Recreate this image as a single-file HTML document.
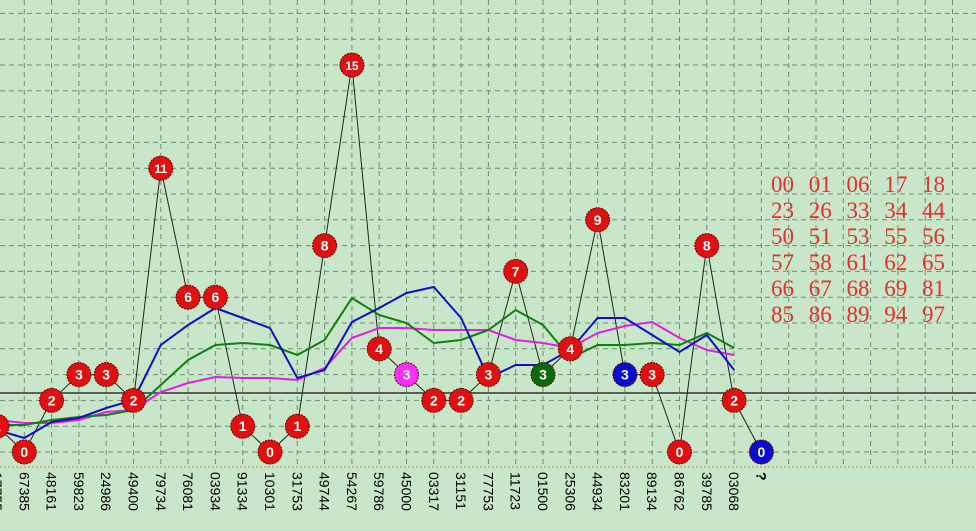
<!DOCTYPE html>
<html><head><meta charset="utf-8"><style>
html,body{margin:0;padding:0;background:#c8e6c8;}
svg{display:block;}
</style></head><body>
<svg width="976" height="531" viewBox="0 0 976 531" xmlns="http://www.w3.org/2000/svg">
<rect width="976" height="531" fill="#c8e6c8"/>
<g id="grid" stroke="#6f8f6f" stroke-width="1" stroke-dasharray="5,4"></g>
<line x1="0" y1="393" x2="976" y2="393" stroke="#333" stroke-width="1.5"/>
<line x1="0" y1="467" x2="976" y2="467" stroke="#d08050" stroke-width="1" stroke-dasharray="2,2"/>
<g id="series" fill="none" stroke-width="2"></g>
<g id="balls"></g>
<g id="labels" font-family="Liberation Sans, sans-serif" font-size="14" fill="#000"></g>
<g font-family="Liberation Serif, serif" font-size="23" fill="#e03030" word-spacing="9">
<text x="771" y="192">00 01 06 17 18</text>
<text x="771" y="218">23 26 33 34 44</text>
<text x="771" y="244">50 51 53 55 56</text>
<text x="771" y="270">57 58 61 62 65</text>
<text x="771" y="296">66 67 68 69 81</text>
<text x="771" y="322">85 86 89 94 97</text>
</g>
</svg>
<script>
const NS="http://www.w3.org/2000/svg";
function el(t,a,p,txt){const e=document.createElementNS(NS,t);for(const k in a)e.setAttribute(k,a[k]);if(txt!==undefined)e.textContent=txt;p.appendChild(e);return e;}
const grid=document.getElementById('grid');
for(let i=1;i<36;i++){const x=-3+27.3*i;el('line',{x1:x,y1:0,x2:x,y2:467},grid);}
for(let v=0;v<18;v++){const y=452-25.8*v;el('line',{x1:0,y1:y,x2:976,y2:y},grid);}
const X=i=>-3+27.3*i, Y=v=>452-25.8*v;
const vals=[1,0,2,3,3,2,11,6,6,1,0,1,8,15,4,3,2,2,3,7,3,4,9,3,3,0,8,2,0];
const s=document.getElementById('series');
const blue=[430,438,422,418,408,400,345,325,308,318,328,378,370,322,308,293,287,318,378,365,365,350,318,318,335,352,335,370];
const green=[425,425,420,417,415,410,385,360,345,343,345,355,340,298,315,323,343,340,330,310,325,358,345,345,343,345,333,348];
const mag=[420,423,423,420,412,410,392,383,377,378,378,380,368,338,328,328,330,330,330,340,343,348,333,326,322,338,350,355];
function poly(arr,c){el('polyline',{points:arr.map((y,i)=>X(i)+','+y).join(' '),stroke:c},s);}
el('polyline',{points:vals.map((v,i)=>X(i)+','+Y(v)).join(' '),stroke:'#222','stroke-width':1},s);
poly(mag,'#e020e0');poly(green,'#108010');poly(blue,'#1010c0');
const b=document.getElementById('balls');
const col={15:'#ff30ff',20:'#0a6a0a',23:'#0a0ad0',28:'#0a0ad0'};
vals.forEach((v,i)=>{const x=X(i),y=Y(v);
el('circle',{cx:x,cy:y,r:12,fill:col[i]||'#e01010',stroke:'#600','stroke-width':1,'stroke-dasharray':'2,1'},b);
el('text',{x:x,y:y+5,'text-anchor':'middle','font-family':'Liberation Sans, sans-serif','font-size':v>9?12:14,'font-weight':'bold',fill:'#fff'},b,String(v));});
const labs=['17755','67385','48161','59823','24986','49400','79734','76081','03934','91334','10301','31753','49744','54267','59786','45000','03317','31151','77753','11723','01500','25306','44934','83201','89134','86762','39785','03068','?'];
const L=document.getElementById('labels');
labs.forEach((t,i)=>{const x=X(i);el('text',{transform:`translate(${x-5},472) rotate(90)`,'font-weight':t=='?'?'bold':'normal'},L,t);});
</script>
</body></html>
